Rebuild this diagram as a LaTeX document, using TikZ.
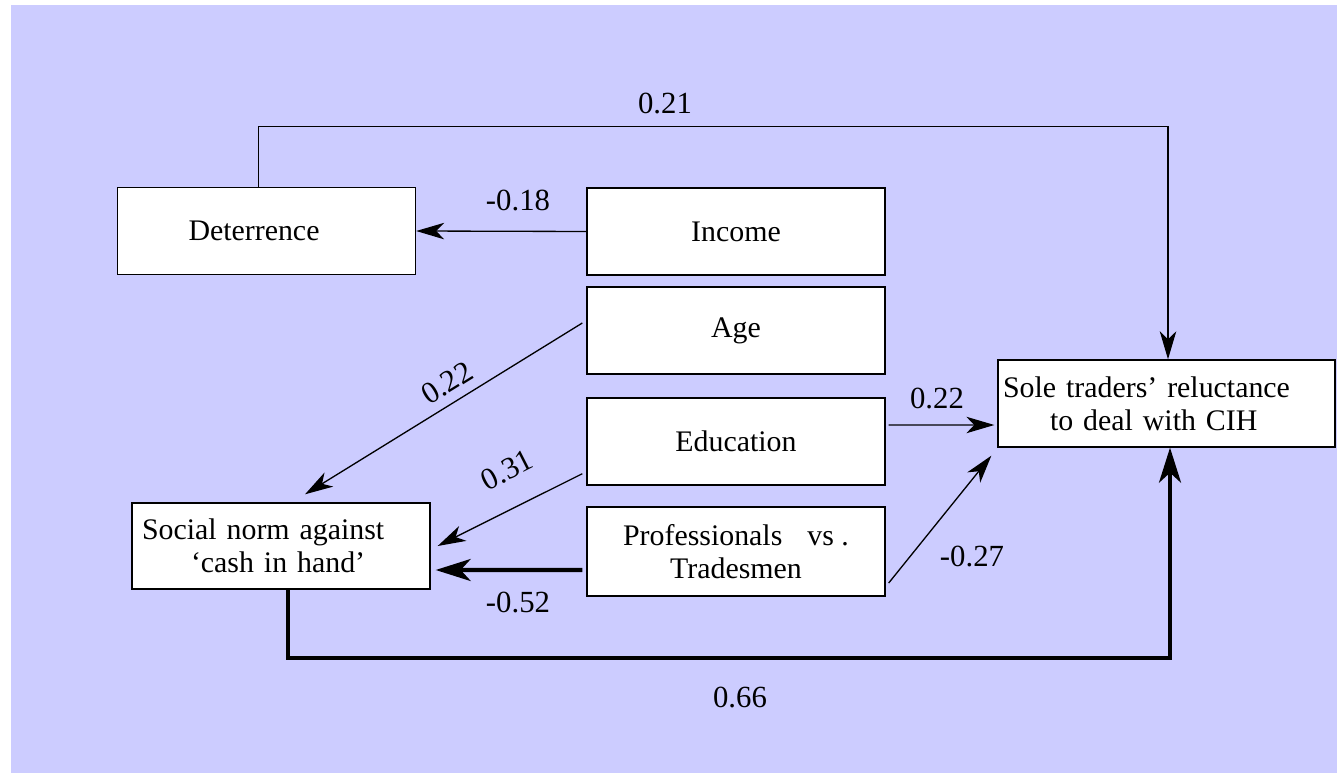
\documentclass[tikz,border=0pt]{standalone}
\usepackage{fontspec}
\newfontfamily\libser{Liberation Serif}[Ligatures=TeX]
\usetikzlibrary{calc,arrows.meta}
\definecolor{bgpurple}{HTML}{CCCCFF}

\begin{document}
\begin{tikzpicture}[x=0.02cm,y=-0.02cm,
  box/.style={draw,fill=white,line width=0.8pt,minimum width=5.96cm,minimum height=1.74cm,
    inner sep=0pt,align=center,font=\libser\fontsize{17}{19}\selectfont},
  coef/.style={font=\libser\fontsize{17.5}{19}\selectfont,inner sep=0pt},
  link/.style={line width=0.75pt,-{Stealth[length=5.6mm,width=3.3mm,inset=1.6mm]}},
  heavy/.style={line width=2.3pt,-{Stealth[length=7mm,width=4.4mm,inset=2mm]}}]
  \useasboundingbox (0,0) rectangle (1337,773);
  \fill[bgpurple] (11,5) rectangle (1337,773);

  \node[box] (det) at (266.5,231) {Deterrence\hspace*{0.5cm}};
  \node[box] (inc) at (736,231.5) {Income};
  \node[box] (age) at (736,330.5) {Age};
  \node[box] (edu) at (736,441.5) {Education};
  \node[box,minimum height=1.78cm] (pro) at (736,551.5) {Professionals\hspace{0.5cm}vs .\\Tradesmen};
  \node[box,minimum height=1.72cm,align=left,text width=5.56cm,inner xsep=0.2cm] (soc) at (281,546)
    {Social norm against\\\hspace*{0.98cm}`cash in hand'};
  \node[box,minimum width=6.74cm,align=left,text width=6.54cm,inner xsep=0.1cm] (sole) at (1166.5,403.5)
    {Sole traders' reluctance\\\hspace*{0.94cm}to deal with CIH};

  \draw[link] (inc.west) -- (det.east);
  \draw[link] ($(age.west)+(-4,-7.5)$) -- ($(soc.north)+(24,-8)$);
  \draw[link] ($(edu.south west)+(-4,-12)$) -- ($(soc.east)+(7,0)$);
  \draw[heavy] ($(pro.west)+(-4,18.5)$) -- ($(soc.east)+(5,24)$);
  \draw[link] ($(edu.east)+(3,-16.5)$) -- ($(sole.west)+(-3,21.5)$);
  \draw[link] ($(pro.east)+(3,31.5)$) -- ($(sole.south west)+(-6,8)$);
  \draw[link] ($(det.north)+(-8,0)$) -- ++(0,-60) -| ($(sole.north)+(1.5,0)$);
  \draw[heavy] ($(soc.south)+(7,0)$) -- ++(0,68) -| ($(sole.south)+(3.5,0)$);

  \node[coef] (c21) at (665,103) {0.21};
  \node[coef] (c18) at (518,200) {-0.18};
  \node[coef,rotate=31.7] (c22a) at (447,383) {0.22};
  \node[coef,rotate=27] (c31) at (507,470) {0.31};
  \node[coef] (c52) at (518,602) {-0.52};
  \node[coef] (c22b) at (937,398) {0.22};
  \node[coef] (c27) at (972,556) {-0.27};
  \node[coef] (c66) at (740,697) {0.66};
\end{tikzpicture}
\end{document}
